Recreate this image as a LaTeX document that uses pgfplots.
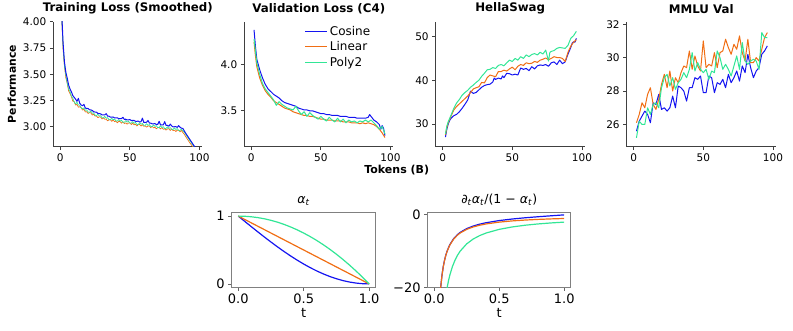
\documentclass[border=0pt]{standalone}
\usepackage{fontspec}
\setmainfont{DejaVu Sans}
\usepackage{pgfplots}
\usepackage{pgfplotstable}
\pgfplotsset{compat=1.18}
\definecolor{cblue}{RGB}{20,20,240}
\definecolor{corange}{RGB}{240,110,20}
\definecolor{cgreen}{RGB}{50,230,150}

\pgfplotstableread{
x cos lin poly
1 4.100 4.057 4.057
2 3.803 3.744 3.774
3 3.617 3.580 3.581
4 3.520 3.466 3.491
5 3.463 3.413 3.415
6 3.397 3.341 3.357
7 3.360 3.315 3.334
8 3.333 3.287 3.291
9 3.297 3.244 3.271
10 3.280 3.240 3.235
11 3.263 3.206 3.217
12 3.242 3.213 3.234
13 3.270 3.186 3.206
14 3.223 3.190 3.206
15 3.207 3.182 3.180
16 3.200 3.159 3.172
17 3.213 3.165 3.179
18 3.177 3.141 3.156
19 3.175 3.143 3.161
20 3.173 3.126 3.140
21 3.162 3.135 3.137
22 3.160 3.132 3.149
23 3.155 3.111 3.128
24 3.142 3.120 3.131
25 3.140 3.101 3.110
26 3.138 3.103 3.107
27 3.127 3.086 3.119
28 3.125 3.095 3.101
29 3.123 3.092 3.106
30 3.112 3.074 3.085
31 3.112 3.087 3.084
32 3.113 3.071 3.099
33 3.125 3.073 3.081
34 3.100 3.056 3.086
35 3.100 3.067 3.067
36 3.092 3.067 3.067
37 3.092 3.051 3.081
38 3.093 3.065 3.066
39 3.084 3.048 3.073
40 3.085 3.053 3.055
41 3.085 3.038 3.054
42 3.077 3.050 3.069
43 3.077 3.049 3.053
44 3.078 3.034 3.061
45 3.090 3.047 3.042
46 3.070 3.031 3.042
47 3.072 3.037 3.058
48 3.065 3.024 3.044
49 3.066 3.036 3.052
50 3.068 3.037 3.035
51 3.059 3.021 3.034
52 3.060 3.035 3.049
53 3.060 3.018 3.033
54 3.052 3.023 3.041
55 3.052 3.008 3.022
56 3.053 3.020 3.022
57 3.046 3.021 3.038
58 3.048 3.007 3.024
59 3.082 3.020 3.031
60 3.040 3.004 3.013
61 3.041 3.009 3.013
62 3.043 2.996 3.029
63 3.060 3.007 3.013
64 3.035 3.007 3.021
65 3.035 2.991 3.002
66 3.027 3.005 3.002
67 3.028 2.989 3.017
68 3.030 2.995 3.003
69 3.021 2.980 3.010
70 3.022 2.992 2.992
71 3.052 2.993 2.993
72 3.017 2.979 3.009
73 3.017 2.992 2.993
74 3.018 2.976 3.001
75 3.048 2.981 2.983
76 3.012 2.968 2.984
77 3.013 2.980 2.999
78 3.005 2.980 2.984
79 3.025 2.965 2.992
80 3.008 2.980 2.975
81 2.999 2.963 2.974
82 3.000 2.968 2.989
83 3.001 2.954 2.974
84 2.994 2.967 2.983
85 3.010 2.967 2.965
86 2.996 2.952 2.965
87 2.986 2.964 2.978
88 2.985 2.946 2.961
89 2.962 2.930 2.950
90 2.940 2.908 2.930
91 2.920 2.888 2.908
92 2.900 2.868 2.890
93 2.880 2.848 2.868
94 2.860 2.830 2.850
95 2.840 2.812 2.830
96 2.820 2.795 2.812
97 2.800 2.778 2.795
}\trainloss

\pgfplotstableread{
x cos lin poly
2 25.6 26.1 25.2
4 26.2 26.6 26.2
6 26.5 27.3 26.0
8 26.8 27.0 26.0
10 26.6 27.8 27.0
12 26.1 28.2 26.6
14 27.3 27.2 27.2
16 27.2 26.9 27.3
18 27.8 27.5 27.0
20 26.9 28.4 28.2
22 27.0 29.0 28.8
24 26.8 28.2 29.0
26 27.0 29.2 28.3
28 27.7 28.0 28.8
30 27.0 28.8 28.1
32 28.3 28.5 28.5
34 28.2 29.1 28.7
36 28.0 29.5 29.1
38 27.4 29.4 28.8
40 28.2 30.4 29.3
42 28.2 29.3 30.3
44 28.8 30.1 29.2
46 28.7 29.5 29.7
48 28.9 29.2 29.3
50 27.9 31.0 29.1
52 27.9 29.4 29.3
54 28.9 29.6 28.7
56 28.8 29.5 29.2
58 27.9 30.3 29.1
60 28.5 29.4 30.4
62 28.4 30.3 30.0
64 28.7 30.4 29.3
66 28.2 31.1 29.6
68 29.0 30.6 29.3
70 28.5 30.2 28.9
72 28.8 30.8 29.5
74 29.2 30.5 30.1
76 28.6 31.3 29.3
78 29.5 30.3 30.9
80 29.1 29.8 29.8
82 30.2 31.1 29.6
84 29.4 29.7 29.8
86 28.8 29.7 29.9
88 29.2 30.0 29.8
90 29.4 29.8 29.3
92 30.2 30.5 31.5
94 30.4 31.2 31.2
96 30.7 31.5 31.2
}\mmlu

\pgfplotstableread{
t cos lin poly
0.00 1.0000 1.00 1.0000
0.05 0.9215 0.95 0.9975
0.10 0.8436 0.90 0.9900
0.15 0.7666 0.85 0.9775
0.20 0.6910 0.80 0.9600
0.25 0.6173 0.75 0.9375
0.30 0.5460 0.70 0.9100
0.35 0.4775 0.65 0.8775
0.40 0.4122 0.60 0.8400
0.45 0.3506 0.55 0.7975
0.50 0.2929 0.50 0.7500
0.55 0.2396 0.45 0.6975
0.60 0.1910 0.40 0.6400
0.65 0.1474 0.35 0.5775
0.70 0.1090 0.30 0.5100
0.75 0.0761 0.25 0.4375
0.80 0.0489 0.20 0.3600
0.85 0.0276 0.15 0.2775
0.90 0.0123 0.10 0.1900
0.95 0.0031 0.05 0.0975
1.00 0.0000 0.00 0.0000
}\alphat

\newcommand{\at}{\textit{α}\textsubscript{\textit{t}}}

\pgfplotsset{
 topax/.style={scale only axis, width=149pt, height=125pt,
   axis x line*=bottom, axis y line*=left,
   axis line style={draw=black!75, line width=0.8pt},
   every tick/.style={black!75, line width=0.8pt},
   tick align=outside, major tick length=3.5pt,
   tick label style={font=\fontsize{10.5}{12}\selectfont, black},
   title style={font=\bfseries\fontsize{11.8}{13}\selectfont, yshift=-2pt},
   /pgf/number format/assume math mode=true,
   xmin=-5, xmax=102, xtick={0,50,100},
   every axis plot/.append style={line width=1pt, line join=round, mark=none}},
 botax/.style={scale only axis, width=144pt, height=74.6pt,
   axis line style={draw=black!50, line width=0.8pt},
   every tick/.style={black!60, line width=0.8pt},
   tick align=outside, major tick length=3.5pt, tick pos=left,
   tick label style={font=\fontsize{13}{14}\selectfont, black},
   label style={font=\fontsize{13}{14}\selectfont},
   xlabel style={yshift=3pt},
   title style={font=\fontsize{12.5}{14}\selectfont, yshift=-2pt},
   /pgf/number format/assume math mode=true,
   xmin=-0.05, xmax=1.05, xtick={0,0.5,1}, xticklabels={0.0,0.5,1.0},
   xlabel={t},
   every axis plot/.append style={line width=1.2pt, line join=round, mark=none}},
}

\begin{document}
\begin{tikzpicture}
\useasboundingbox (0,0) rectangle (793pt,330pt);

% Training loss
\begin{axis}[topax, at={(53.3pt,183.3pt)}, anchor=south west,
  title={Training Loss (Smoothed)},
  ymin=2.81, ymax=4.0, ytick={3.0,3.25,3.5,3.75,4.0},
  yticklabel style={/pgf/number format/fixed, /pgf/number format/fixed zerofill, /pgf/number format/precision=2},
  ylabel={Performance}, ylabel style={font=\bfseries\fontsize{10.8}{12}\selectfont}]
\addplot[corange, line width=0.7pt] table[x=x, y=lin] {\trainloss};
\addplot[cgreen, line width=0.7pt] table[x=x, y=poly] {\trainloss};
\addplot[cblue] table[x=x, y=cos] {\trainloss};
\end{axis}

% Validation loss
\begin{axis}[topax, at={(244.3pt,183.3pt)}, anchor=south west,
  title={Validation Loss (C4)},
  ymin=3.11, ymax=4.47, ytick={3.5,4.0},
  yticklabel style={/pgf/number format/fixed, /pgf/number format/fixed zerofill, /pgf/number format/precision=1},
  legend style={draw=none, fill=none, at={(0.88,1.0)}, anchor=north east,
    font=\fontsize{12}{13}\selectfont, row sep=1pt},
  legend cell align=left,
  legend image code/.code={\draw[#1] (0pt,0pt) -- (22pt,0pt);}]
\addplot[cblue] coordinates {(2,4.38) (3,4.20) (4,4.06) (6,3.95) (8,3.86) (10,3.79) (12,3.74) (14,3.71) (16,3.68) (18,3.66) (20,3.64) (22,3.61) (24,3.59) (26,3.58) (28,3.57) (30,3.56) (32,3.55) (34,3.53) (36,3.52) (38,3.51) (40,3.51) (42,3.50) (44,3.50) (46,3.49) (48,3.48) (50,3.47) (52,3.47) (54,3.46) (56,3.46) (58,3.45) (60,3.45) (62,3.45) (64,3.44) (66,3.44) (68,3.44) (70,3.43) (72,3.43) (74,3.43) (76,3.42) (78,3.42) (80,3.42) (82,3.42) (84,3.43) (85,3.46) (86,3.44) (88,3.40) (90,3.38) (92,3.35) (93,3.30) (94,3.34) (95,3.31) (96,3.23)};
\addlegendentry{Cosine}
\addplot[corange] coordinates {(2,4.25) (3,4.10) (4,3.98) (6,3.86) (8,3.78) (10,3.72) (12,3.68) (14,3.65) (16,3.61) (18,3.59) (20,3.57) (22,3.55) (24,3.53) (26,3.52) (28,3.51) (30,3.49) (32,3.48) (34,3.47) (36,3.46) (38,3.45) (40,3.45) (42,3.44) (44,3.44) (46,3.43) (48,3.42) (50,3.41) (52,3.41) (54,3.40) (56,3.40) (58,3.40) (60,3.39) (62,3.39) (64,3.39) (66,3.38) (68,3.38) (70,3.38) (72,3.37) (74,3.37) (76,3.37) (78,3.36) (80,3.37) (82,3.36) (84,3.37) (86,3.36) (88,3.35) (90,3.33) (92,3.30) (94,3.26) (96,3.21)};
\addlegendentry{Linear}
\addplot[cgreen] coordinates {(2,4.28) (3,4.15) (4,4.02) (6,3.90) (8,3.80) (10,3.74) (12,3.70) (14,3.66) (16,3.62) (18,3.56) (20,3.60) (22,3.57) (24,3.55) (26,3.53) (28,3.52) (30,3.51) (32,3.55) (34,3.50) (36,3.46) (38,3.49) (40,3.44) (42,3.48) (44,3.45) (46,3.43) (48,3.41) (50,3.44) (52,3.41) (54,3.39) (56,3.43) (58,3.40) (60,3.38) (62,3.42) (64,3.38) (66,3.41) (68,3.37) (70,3.40) (72,3.38) (74,3.39) (76,3.37) (78,3.39) (80,3.38) (82,3.40) (84,3.38) (86,3.40) (88,3.37) (90,3.34) (92,3.30) (94,3.33) (96,3.25)};
\addlegendentry{Poly2}
\end{axis}

% HellaSwag
\begin{axis}[topax, at={(435.7pt,183.3pt)}, anchor=south west,
  title={HellaSwag},
  ymin=24.8, ymax=53.4, ytick={30,40,50}]
\addplot[cblue] coordinates {(2,27.0) (3,28.8) (4,30.0) (5,30.8) (6,31.3) (8,31.9) (10,32.2) (12,32.8) (14,33.6) (16,34.5) (18,35.5) (19,36.5) (20,37.5) (22,37.0) (24,37.2) (26,37.8) (28,38.4) (30,38.8) (32,39.0) (34,39.1) (36,39.6) (37,40.5) (38,40.2) (40,40.5) (42,40.3) (43,41.0) (44,40.6) (46,41.6) (48,41.5) (50,41.2) (52,41.4) (54,41.2) (56,42.8) (58,42.5) (60,42.7) (62,42.2) (64,43.1) (66,42.6) (68,43.3) (70,43.5) (72,43.4) (74,43.6) (76,43.2) (78,44.0) (80,44.2) (82,43.6) (84,44.6) (86,43.8) (88,44.2) (90,46.0) (92,47.5) (93,48.5) (94,48.8) (95,48.7) (96,49.6)};
\addplot[corange] coordinates {(2,27.5) (3,29.2) (4,30.3) (6,31.8) (8,33.2) (10,34.0) (12,34.6) (14,35.2) (16,35.8) (18,36.4) (20,37.2) (22,38.0) (24,38.3) (26,38.5) (28,39.5) (30,39.4) (32,40.6) (34,41.2) (36,41.0) (38,40.8) (40,42.0) (42,42.0) (44,42.3) (46,42.1) (48,42.6) (50,43.0) (52,42.4) (54,43.2) (56,43.6) (58,43.4) (60,44.0) (62,43.8) (64,43.9) (66,44.3) (68,44.1) (70,44.6) (72,44.8) (74,45.1) (76,44.7) (78,45.0) (80,45.4) (82,45.2) (84,45.2) (86,45.0) (88,44.3) (90,46.4) (92,47.8) (94,48.7) (96,49.3)};
\addplot[cgreen] coordinates {(2,27.7) (3,29.5) (4,30.5) (6,32.0) (8,33.6) (10,34.8) (12,35.6) (14,36.6) (16,37.2) (18,37.7) (20,38.4) (22,38.9) (24,39.5) (26,40.0) (28,40.9) (30,41.6) (32,42.4) (34,42.5) (36,42.9) (38,42.7) (40,43.4) (42,43.6) (44,43.3) (46,44.0) (48,44.6) (50,44.3) (52,45.0) (54,44.6) (56,45.4) (58,45.0) (60,45.8) (62,45.4) (64,45.9) (66,46.1) (68,45.8) (70,46.4) (72,46.0) (74,46.9) (76,44.4) (77,46.4) (78,46.6) (80,46.8) (82,47.3) (84,47.5) (86,47.4) (88,47.3) (90,48.0) (92,49.6) (94,50.2) (96,51.2)};
\end{axis}

% MMLU
\begin{axis}[topax, at={(626.7pt,183.3pt)}, anchor=south west,
  title={MMLU Val},
  ymin=24.67, ymax=32.15, ytick={26,28,30,32}]
\addplot[cblue] table[x=x, y=cos] {\mmlu};
\addplot[corange] table[x=x, y=lin] {\mmlu};
\addplot[cgreen] table[x=x, y=poly] {\mmlu};
\end{axis}

\node[font=\bfseries\fontsize{11}{12}\selectfont] at (396.7pt,160pt) {Tokens (B)};

% alpha_t
\begin{axis}[botax, at={(231.7pt,42.7pt)}, anchor=south west,
  title={\at}, ymin=-0.05, ymax=1.05, ytick={0,1}]
\addplot[cblue] table[x=t, y=cos] {\alphat};
\addplot[corange] table[x=t, y=lin] {\alphat};
\addplot[cgreen] table[x=t, y=poly] {\alphat};
\end{axis}

% ratio
\begin{axis}[botax, at={(427.7pt,42.7pt)}, anchor=south west, width=143pt,
  title={∂\textsubscript{\textit{t}}\at/(1 − \at)}, ymin=-20, ymax=0.6, ytick={-20,0}, yticklabels={−20,0}]
\addplot[cblue] coordinates {(0.04,-24.97) (0.05,-19.96) (0.06,-16.62) (0.07,-14.23) (0.08,-12.43) (0.09,-11.03) (0.10,-9.918) (0.12,-8.235) (0.15,-6.543) (0.18,-5.409) (0.20,-4.834) (0.25,-3.792) (0.30,-3.083) (0.35,-2.563) (0.40,-2.162) (0.50,-1.571) (0.60,-1.141) (0.70,-0.800) (0.80,-0.510) (0.90,-0.249) (1.00,0.0)};
\addplot[corange] coordinates {(0.04,-25) (0.05,-20) (0.06,-16.67) (0.07,-14.29) (0.08,-12.5) (0.09,-11.11) (0.10,-10) (0.12,-8.333) (0.15,-6.667) (0.18,-5.556) (0.20,-5) (0.25,-4) (0.30,-3.333) (0.35,-2.857) (0.40,-2.5) (0.50,-2) (0.60,-1.667) (0.70,-1.429) (0.80,-1.25) (0.90,-1.111) (1.00,-1)};
\addplot[cgreen] coordinates {(0.08,-25) (0.09,-22.22) (0.10,-20) (0.11,-18.18) (0.12,-16.67) (0.14,-14.29) (0.16,-12.5) (0.18,-11.11) (0.20,-10) (0.25,-8) (0.30,-6.667) (0.35,-5.714) (0.40,-5) (0.50,-4) (0.60,-3.333) (0.70,-2.857) (0.80,-2.5) (0.90,-2.222) (1.00,-2)};
\end{axis}
\end{tikzpicture}
\end{document}
